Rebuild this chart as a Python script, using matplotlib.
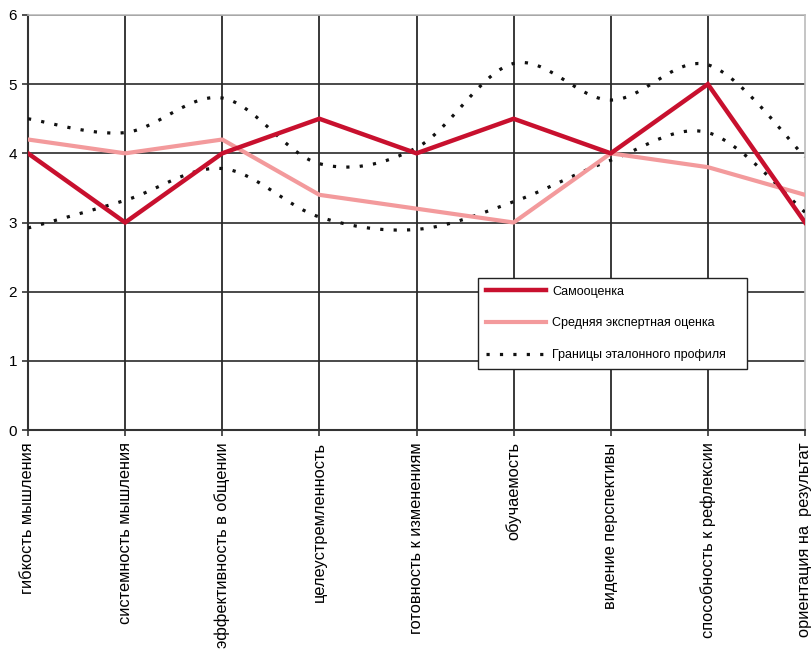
import numpy as np
import matplotlib
matplotlib.use("Agg")
import matplotlib.pyplot as plt

plt.rcParams['font.family'] = ['Liberation Sans', 'DejaVu Sans']

categories = ["гибкость мышления", "системность мышления", "эффективность в общении",
              "целеустремленность", "готовность к изменениям", "обучаемость",
              "видение перспективы", "способность к рефлексии", "ориентация на  результат"]
self_score = [4, 3, 4, 4.5, 4, 4.5, 4, 5, 3]
expert_score = [4.2, 4.0, 4.2, 3.4, 3.2, 3.0, 4.0, 3.8, 3.4]
upper_bound = [4.5, 4.3, 4.8, 3.85, 4.08, 5.3, 4.77, 5.28, 3.95]
lower_bound = [2.92, 3.32, 3.78, 3.08, 2.9, 3.3, 3.9, 4.3, 3.15]
y_ticks = [0, 1, 2, 3, 4, 5, 6]


def smooth(ys, n=30):
    """Excel-style smoothed line (Catmull-Rom Bezier) through the points."""
    p = np.column_stack([np.arange(len(ys), dtype=float), np.asarray(ys, float)])
    out = []
    for i in range(len(p) - 1):
        p0 = p[i - 1] if i > 0 else p[i]
        p1, p2 = p[i], p[i + 1]
        p3 = p[i + 2] if i + 2 < len(p) else p[i + 1]
        c1 = p1 + (p2 - p0) / 6
        c2 = p2 - (p3 - p1) / 6
        t = np.linspace(0, 1, n)[:, None]
        seg = (1 - t) ** 3 * p1 + 3 * (1 - t) ** 2 * t * c1 + 3 * (1 - t) * t ** 2 * c2 + t ** 3 * p2
        out.append(seg if i == 0 else seg[1:])
    s = np.vstack(out)
    return s[:, 0], s[:, 1]


fig = plt.figure(figsize=(8.11, 6.54), dpi=100)
ax = fig.add_axes([28 / 811, 1 - 430 / 654, (805 - 28) / 811, (430 - 15) / 654])

x = np.arange(len(categories))
ax.set_xlim(0, len(categories) - 1)
ax.set_ylim(0, 6)

# grid
for yv in y_ticks[1:]:
    ax.axhline(yv, color='#3a3a3a', lw=1.3, zorder=1)
for xv in x[1:-1]:
    ax.axvline(xv, color='#2a2a2a', lw=1.3, zorder=1)

xu, yu = smooth(upper_bound)
xl, yl = smooth(lower_bound)
l3, = ax.plot(xu, yu, color='#111111', lw=2.3, linestyle=(0, (1, 3.2)), zorder=3)
ax.plot(xl, yl, color='#111111', lw=2.3, linestyle=(0, (1, 3.2)), zorder=3)
l1, = ax.plot(x, self_score, color='#c8102e', lw=3.2, zorder=5, solid_joinstyle='miter')
l2, = ax.plot(x, expert_score, color='#f39a9c', lw=3.0, zorder=4)

for s in ['left', 'bottom']:
    ax.spines[s].set_color('#333333')
    ax.spines[s].set_linewidth(1.5)
for s in ['top', 'right']:
    ax.spines[s].set_color('#bbbbbb')
    ax.spines[s].set_linewidth(1.2)

ax.set_yticks(y_ticks)
ax.set_yticklabels([str(v) for v in y_ticks], fontsize=11)
ax.set_xticks(x)
ax.set_xticklabels(categories, rotation=90, fontsize=11.8, va='top', ha='center')
ax.tick_params(axis='both', direction='out', length=4, width=1.2, color='#333333', pad=3)
ax.tick_params(axis='x', pad=5)
ax.tick_params(axis='y', pad=4)

labels = ['Самооценка', 'Средняя экспертная оценка', 'Границы эталонного профиля']
leg = fig.legend([l1, l2, l3], labels, loc='upper left',
                 bbox_to_anchor=(478 / 811, 1 - 368 / 654, 269 / 811, 90 / 654), mode='expand',
                 fontsize=9, frameon=True, fancybox=False, edgecolor='#222222',
                 framealpha=1, handlelength=4.8, labelspacing=1.58, borderpad=0.6,
                 handletextpad=0.55, borderaxespad=0)
leg.get_frame().set_linewidth(1.0)

fig.savefig('out.png', dpi=100)
